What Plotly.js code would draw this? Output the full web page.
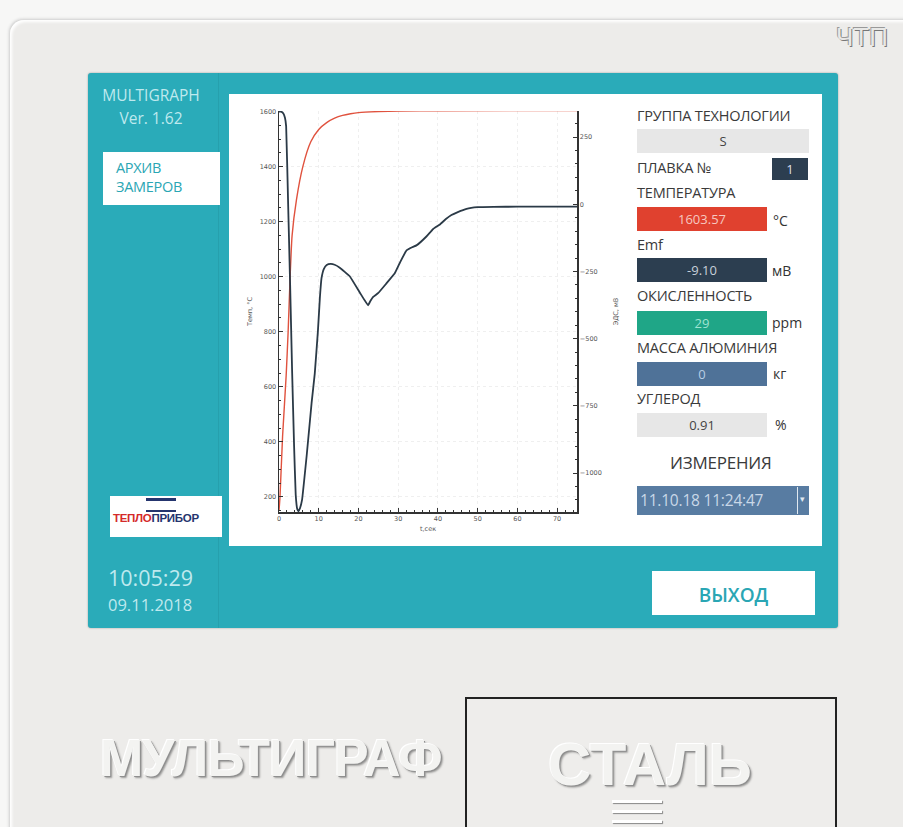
<!DOCTYPE html>
<html>
<head>
<meta charset="utf-8">
<script src="https://cdn.plot.ly/plotly-3.0.1.min.js"></script>
<style>
  html, body { margin:0; padding:0; }
  body { width:903px; height:827px; overflow:hidden; background:#f7f7f6; position:relative; font-family:"Open Sans", "Noto Sans", sans-serif; }
  .abs { position:absolute; }
  #device { left:10px; top:20px; width:900px; height:820px; background:#edecea; border-radius:14px 0 0 0; box-shadow: inset 2px 2px 3px #fff, -1px -1px 3px #ccc; }
  #screen { left:88px; top:73px; width:750px; height:555px; background:#2aabb9; border-radius:3px; box-shadow: 0 0 2px #999; }
  #sidebar { left:88px; top:73px; width:130px; height:555px; border-right:1px solid #26a0ad; }
  #white { left:229px; top:94px; width:593px; height:452px; background:#fff; }
  .lbl { font-size:14.5px; color:#3a3a3a; white-space:nowrap; letter-spacing:-0.2px; }
  .box { font-size:13px; text-align:center; line-height:24px; height:24px; }
  .unit { font-size:14px; color:#333; }
  .emb { color:#f3f3f1; font-weight:bold; text-shadow: -1px -1px 0 #fff, 1px 1px 0 #8f8f8f, 2px 2px 2px rgba(0,0,0,0.35); white-space:nowrap; }
</style>
</head>
<body>
<div id="device" class="abs"></div>
<div class="abs" style="left:836px; top:22px; font-size:26px; font-family:'Liberation Sans'; color:#e8e8e6; text-shadow:1px 1px 0 #777, -1px -1px 0 #999;">ЧТП</div>
<div id="screen" class="abs"></div>
<div id="sidebar" class="abs"></div>
<div class="abs" style="left:88px; top:84px; width:126px; text-align:center; color:#bfe9ee; font-size:15.5px; line-height:23px;">MULTIGRAPH<br>Ver. 1.62</div>
<div class="abs" style="left:103px; top:152px; width:117px; height:53px; background:#fff;"></div>
<div class="abs" style="left:116px; top:158px; color:#2aa6b4; font-size:14.5px; line-height:19px; letter-spacing:-0.3px;">АРХИВ<br>ЗАМЕРОВ</div>
<div class="abs" style="left:110px; top:496px; width:112px; height:41px; background:#fff;"></div>
<div class="abs" style="left:146px; top:498px; width:30px; height:14px; border-top:3px solid #25356e; border-bottom:2px solid #25356e; box-sizing:border-box;"></div>
<div class="abs" style="left:113px; top:512px; font-family:'Liberation Sans'; font-weight:bold; font-size:11.5px; letter-spacing:-0.3px;"><span style="color:#d42a2a;">ТЕПЛО</span><span style="color:#25356e;">ПРИБОР</span></div>
<div class="abs" style="left:108px; top:563px; color:#bfe9ee; font-size:21.5px;">10:05:29</div>
<div class="abs" style="left:108px; top:593px; color:#bfe9ee; font-size:16.5px;">09.11.2018</div>
<div class="abs" style="left:652px; top:571px; width:163px; height:44px; background:#fff; color:#2aa6b4; font-weight:600; font-size:19px; text-align:center; line-height:48px;">ВЫХОД</div>
<div id="white" class="abs"></div>
<div id="chart" class="abs" style="left:229px; top:94px; width:400px; height:452px;"></div>

<div class="abs lbl" style="left:637px; top:106px;">ГРУППА ТЕХНОЛОГИИ</div>
<div class="abs box" style="left:637px; top:129px; width:172px; background:#e7e7e7; color:#444;">S</div>
<div class="abs lbl" style="left:637px; top:158px;">ПЛАВКА №</div>
<div class="abs box" style="left:772px; top:158px; width:36px; height:22px; line-height:22px; background:#2c3e50; color:#dde;">1</div>
<div class="abs lbl" style="left:637px; top:183px;">ТЕМПЕРАТУРА</div>
<div class="abs box" style="left:637px; top:207px; width:130px; background:#e0412f; color:#f6c8c0;">1603.57</div>
<div class="abs unit" style="left:773px; top:211px;">°C</div>
<div class="abs lbl" style="left:637px; top:235px;">Emf</div>
<div class="abs box" style="left:637px; top:258px; width:130px; background:#2c3e50; color:#c8d0da;">-9.10</div>
<div class="abs unit" style="left:772px; top:261px;">мВ</div>
<div class="abs lbl" style="left:637px; top:286px;">ОКИСЛЕННОСТЬ</div>
<div class="abs box" style="left:637px; top:311px; width:130px; background:#1fa687; color:#9fe3d2;">29</div>
<div class="abs unit" style="left:772px; top:313px;">ppm</div>
<div class="abs lbl" style="left:637px; top:338px;">МАССА АЛЮМИНИЯ</div>
<div class="abs box" style="left:637px; top:362px; width:130px; background:#4f7298; color:#b7cde4;">0</div>
<div class="abs unit" style="left:773px; top:364px;">кг</div>
<div class="abs lbl" style="left:637px; top:389px;">УГЛЕРОД</div>
<div class="abs box" style="left:637px; top:413px; width:130px; background:#e7e7e7; color:#444;">0.91</div>
<div class="abs unit" style="left:775px; top:415px;">%</div>
<div class="abs lbl" style="left:670px; top:451px; font-size:17px;">ИЗМЕРЕНИЯ</div>
<div class="abs" style="left:637px; top:486px; width:172px; height:29px; background:#587ca2;"></div>
<div class="abs" style="left:640px; top:489px; color:#c9d8e8; font-size:15.5px; letter-spacing:-0.2px;">11.10.18 11:24:47</div>
<div class="abs" style="left:797px; top:487px; width:1px; height:27px; background:#e0e8f0;"></div>
<div class="abs" style="left:800px; top:492px; color:#e0e8f0; font-size:9px;">▾</div>

<div class="abs emb" style="left:100px; top:728px; font-size:52px; font-family:'Liberation Sans'; letter-spacing:-1px;">МУЛЬТИГРАФ</div>
<div class="abs" style="left:465px; top:697px; width:368px; height:140px; border:2px solid #222; background:#eeedeb;"></div>
<div class="abs emb" style="left:548px; top:730px; font-size:60px; font-family:'Liberation Sans';">СТАЛЬ</div>
<div class="abs" style="left:612px; top:800px; width:50px; height:3px; background:#fff; box-shadow:1px 1px 1px #888;"></div>
<div class="abs" style="left:612px; top:810px; width:50px; height:3px; background:#fff; box-shadow:1px 1px 1px #888;"></div>
<div class="abs" style="left:612px; top:820px; width:50px; height:3px; background:#fff; box-shadow:1px 1px 1px #888;"></div>

<script>
// Temperature series (left axis, °C)
var tempTime   = [0, 0.25, 0.9, 1.8, 2.3, 2.8, 3.3, 4.4, 6, 8, 10, 12, 14, 16, 18, 20, 25, 30, 40, 75];
var tempValues = [150, 200, 420, 640, 800, 1000, 1150, 1280, 1400, 1490, 1535, 1560, 1576, 1586, 1592, 1596, 1600, 1602, 1603, 1603.57];
// EMF series (right axis, mV)
var emfTime   = [0, 0.5, 1.1, 1.5, 1.8, 2.3, 2.8, 3.3, 3.8, 4.2, 4.6, 4.9, 5.3, 5.8, 7, 8.2, 9, 9.8, 10.3, 10.7, 11.3, 12, 13, 14, 15.3, 17.8, 20.4, 22.4, 23, 23.7, 25, 27, 29.1, 30.5, 32.1, 33.5, 34.6, 37.1, 38.8, 40.5, 42, 43.4, 45, 47.2, 50, 54, 60, 75];
var emfValues = [345, 345, 338, 322, 290, 0, -300, -620, -900, -1080, -1135, -1142, -1130, -1100, -930, -740, -630, -470, -345, -275, -240, -226, -222, -225, -236, -268, -330, -376, -360, -345, -330, -295, -258, -215, -172, -160, -153, -120, -92, -75, -55, -40, -29, -17, -11, -9.5, -9.1, -9.1];
// Tick labels
var xTicks = [0, 10, 20, 30, 40, 50, 60, 70];
var yTicks = [200, 400, 600, 800, 1000, 1200, 1400, 1600];
var y2Ticks = [-1000, -750, -500, -250, 0, 250];

var tickFont = {family: 'DejaVu Sans', size: 6.5, color: '#555'};
var titleFont = {family: 'DejaVu Sans', size: 6.5, color: '#555'};

var traces = [
  {x: tempTime, y: tempValues, type: 'scatter', mode: 'lines', yaxis: 'y',
   line: {color: '#e0523e', width: 1.4, shape: 'spline', smoothing: 0.6}, hoverinfo: 'skip'},
  {x: emfTime, y: emfValues, type: 'scatter', mode: 'lines', yaxis: 'y2',
   line: {color: '#2b3a47', width: 1.8, shape: 'spline', smoothing: 0.25}, hoverinfo: 'skip'}
];

var layout = {
  width: 400, height: 452,
  margin: {l: 50, r: 52, t: 17, b: 34, pad: 0},
  paper_bgcolor: '#fff', plot_bgcolor: '#fff',
  showlegend: false,
  xaxis: {
    range: [0, 75], tickvals: xTicks, ticks: 'inside', ticklen: 4, tickcolor: '#333',
    minor: {dtick: 2, tick0: 0, ticks: 'inside', ticklen: 2, tickcolor: '#333', showgrid: false},
    showline: true, linecolor: '#333', linewidth: 1.5, mirror: false,
    showgrid: true, gridcolor: '#efefef', griddash: 'dot', zeroline: false,
    tickfont: tickFont, title: {text: 't,сек', font: titleFont, standoff: 4}
  },
  yaxis: {
    range: [145, 1602], tickvals: yTicks, ticks: 'inside', ticklen: 4, tickcolor: '#333',
    minor: {dtick: 50, tick0: 0, ticks: 'inside', ticklen: 2, tickcolor: '#333', showgrid: false},
    showline: true, linecolor: '#333', linewidth: 1.5,
    showgrid: true, gridcolor: '#efefef', griddash: 'dot', zeroline: false,
    tickfont: tickFont, title: {text: 'Темп, °C', font: titleFont, standoff: 6}
  },
  yaxis2: {
    overlaying: 'y', side: 'right',
    range: [-1145, 347], tickvals: y2Ticks, ticks: 'inside', ticklen: 4, tickcolor: '#333',
    minor: {dtick: 50, tick0: 0, ticks: 'inside', ticklen: 2, tickcolor: '#333', showgrid: false},
    showline: true, linecolor: '#333', linewidth: 1.5,
    showgrid: false, zeroline: false,
    tickfont: tickFont, title: {text: 'ЭДС, мВ', font: titleFont, standoff: 12}
  }
};

Plotly.newPlot('chart', traces, layout, {displayModeBar: false, staticPlot: true});
</script>
</body>
</html>
